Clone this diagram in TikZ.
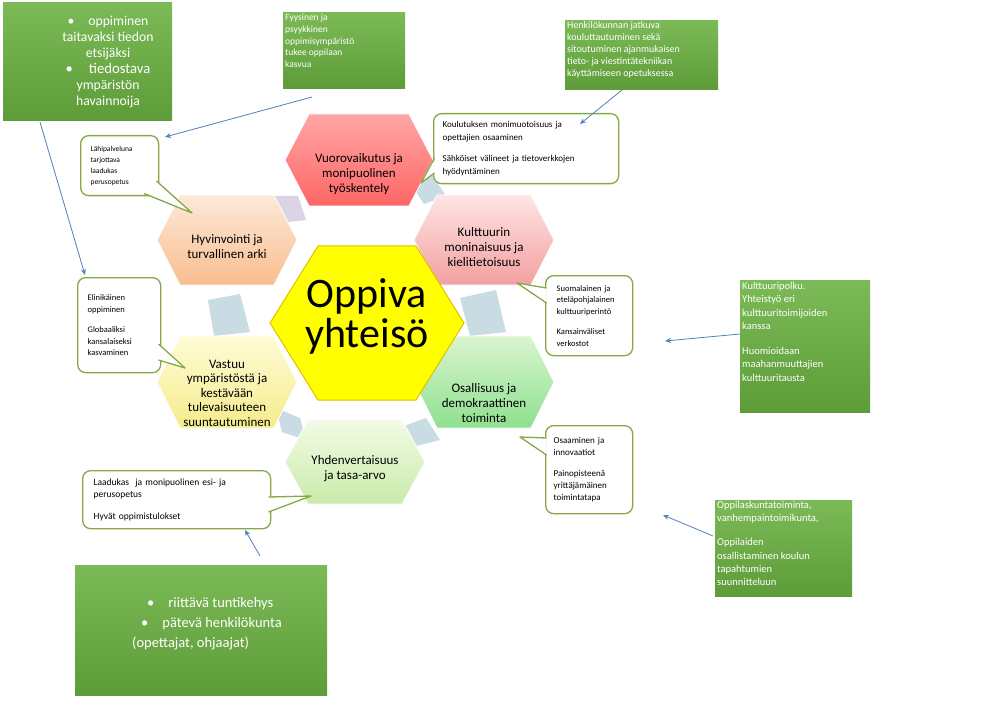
\documentclass[tikz,border=0pt]{standalone}
\usepackage{fontspec}
\setmainfont{Carlito}
\usetikzlibrary{arrows.meta,calc}
\definecolor{gtop}{HTML}{7BBA56}
\definecolor{gbot}{HTML}{5E9C39}
\definecolor{cbord}{HTML}{86A845}
\definecolor{arrblue}{HTML}{4F81BD}
\definecolor{connblue}{HTML}{C9DBE3}
\definecolor{connlav}{HTML}{DAD4E6}
\newcommand{\hexp}[5]{({#1-#3},{#2}) -- ({#1-#3+#5},{#2-#4}) -- ({#1+#3-#5},{#2-#4}) -- ({#1+#3},{#2}) -- ({#1+#3-#5},{#2+#4}) -- ({#1-#3+#5},{#2+#4}) -- cycle}
\tikzset{
  gbox/.style={rectangle, top color=gtop, bottom color=gbot, draw=none, inner sep=0pt, anchor=north west},
  wtxt/.style={text=white, inner sep=0pt, anchor=north west, align=left},
  callbox/.style={rectangle, rounded corners=8pt, draw=cbord, line width=1.3pt, fill=white, anchor=north west, align=left, inner ysep=0pt},
  cline/.style={draw=cbord, line width=1.3pt, line join=round},
  hextxt/.style={align=center, inner sep=0pt, font=\fontsize{13}{15}\selectfont},
  arr/.style={draw=arrblue, line width=0.8pt, -{Stealth[length=6pt,width=5pt]}},
}
\begin{document}
\begin{tikzpicture}[x=1pt,y=-1pt]
\useasboundingbox[fill=white] (0,0) rectangle (1003,703);

% connector shapes between hexagons
\fill[connlav] (262,196) -- (298,196) -- (306,220) -- (272,224) -- cycle;
\fill[connblue] (408,180) -- (430,172) -- (446,196) -- (424,204) -- cycle;
\fill[connblue] (208,300) -- (240,294) -- (250,332) -- (214,336) -- cycle;
\fill[connblue] (460,298) -- (496,290) -- (506,332) -- (470,336) -- cycle;
\fill[connblue] (276,408) -- (300,418) -- (306,440) -- (282,432) -- cycle;
\fill[connblue] (404,426) -- (426,418) -- (440,440) -- (416,446) -- cycle;

% hexagons
\path[top color=red!35!white, bottom color=red!60!white, draw=white, line width=0.8pt] \hexp{359}{160}{74}{46}{24};
\path[top color={rgb,255:red,253;green,233;blue,217}, bottom color={rgb,255:red,249;green,190;blue,143}, draw=white, line width=0.8pt] \hexp{227}{240}{70}{45}{23};
\path[top color={rgb,255:red,255;green,228;blue,228}, bottom color={rgb,255:red,242;green,160;blue,160}, draw=white, line width=0.8pt] \hexp{484}{240}{70}{45}{23};
\path[top color={rgb,255:red,255;green,251;blue,214}, bottom color={rgb,255:red,245;green,236;blue,140}, draw=white, line width=0.8pt] \hexp{227}{382}{70}{46}{23};
\path[top color={rgb,255:red,217;green,245;blue,208}, bottom color={rgb,255:red,142;green,224;blue,142}, draw=white, line width=0.8pt] \hexp{484}{382}{70}{46}{23};
\path[top color={rgb,255:red,242;green,251;blue,230}, bottom color={rgb,255:red,201;green,235;blue,169}, draw=white, line width=0.8pt] \hexp{355}{462}{70}{42}{23};
\path[fill={rgb,255:red,255;green,255;blue,0}, draw={rgb,255:red,224;green,192;blue,0}, line width=1pt] \hexp{367}{323}{97}{77}{48};

% hexagon texts
\node[hextxt] (h1) at (359,174) {Vuorovaikutus ja\\monipuolinen\\työskentely};
\node[hextxt] (h2) at (227,247) {Hyvinvointi ja\\turvallinen arki};
\node[hextxt] (h3) at (484,247) {Kulttuurin\\moninaisuus ja\\kielitietoisuus};
\node[hextxt, font=\fontsize{13}{14.5}\selectfont] (h4) at (227,393) {Vastuu\\ympäristöstä ja\\kestävään\\tulevaisuuteen\\suuntautuminen};
\node[hextxt] (h5) at (484,403) {Osallisuus ja\\demokraattinen\\toiminta};
\node[hextxt] (h6) at (355,469) {Yhdenvertaisuus\\ja tasa-arvo};
\node[hextxt, font=\fontsize{42}{40}\selectfont] (hc) at (367,316) {Oppiva\\yhteisö};

% callouts
\node[callbox, text width=167, inner xsep=9, minimum height=70, font=\fontsize{9}{12.5}\selectfont] (c1) at (433,113) {Koulutuksen monimuotoisuus ja\\opettajien osaaminen\\[9pt]Sähköiset välineet ja tietoverkkojen\\hyödyntäminen};
\fill[white] (436,158) -- (421,183) -- (436,173) -- cycle;
\draw[cline] (434.5,158) -- (421,183) -- (434.5,173);

\node[callbox, text width=58, inner xsep=10, minimum height=60, font=\fontsize{7.5}{11}\selectfont] (c2) at (80,135) {Lähipalveluna\\tarjottava\\laadukas\\perusopetus};
\fill[white] (144,193.5) -- (192,213) -- (156.5,181) -- cycle;
\draw[cline] (144,193.5) -- (192,213) -- (156.5,181);

\node[callbox, text width=63, inner xsep=10, minimum height=95, font=\fontsize{8.5}{11.5}\selectfont] (c3) at (77,277) {Elinikäinen\\oppiminen\\[9pt]Globaaliksi\\kansalaiseksi\\kasvaminen};
\fill[white] (158.5,344) -- (185,368) -- (158.5,360) -- cycle;
\draw[cline] (158.5,344) -- (185,368) -- (158.5,360);

\node[callbox, text width=65, inner xsep=11, minimum height=80, font=\fontsize{8.5}{11.5}\selectfont] (c4) at (545,275) {Suomalainen ja\\eteläpohjalainen\\kulttuuriperintö\\[9pt]Kansainväliset\\verkostot};
\fill[white] (546.5,288) -- (517,283) -- (546.5,303) -- cycle;
\draw[cline] (546.5,288) -- (517,283) -- (546.5,303);

\node[callbox, text width=71, inner xsep=8, minimum height=88, font=\fontsize{9}{12}\selectfont] (c5) at (545,425) {Osaaminen ja\\innovaatiot\\[9pt]Painopisteenä\\yrittäjämäinen\\toimintatapa};
\fill[white] (546.5,438) -- (520,437) -- (546.5,455) -- cycle;
\draw[cline] (546.5,438) -- (520,437) -- (546.5,455);

\node[callbox, text width=166, inner xsep=11, minimum height=58, font=\fontsize{9.5}{12.5}\selectfont] (c6) at (82,470) {Laadukas \ ja monipuolinen esi- ja\\perusopetus\\[9pt]Hyvät oppimistulokset};
\fill[white] (268.5,497) -- (311,496) -- (268.5,512) -- cycle;
\draw[cline] (268.5,497) -- (311,496) -- (268.5,512);

% green boxes
\node[gbox, minimum width=169, minimum height=118] (bA) at (3,2) {};
\node[text=white, inner sep=0pt, align=center, font=\fontsize{13.7}{16}\selectfont] (tA) at (108,62) {•\hspace{14pt}oppiminen\\taitavaksi tiedon\\etsijäksi\\\fontsize{14.7}{18}\selectfont •\hspace{16pt}tiedostava\\ympäristön\\havainnoija};

\node[gbox, minimum width=122, minimum height=76] (bB) at (283,12) {};
\node[wtxt, font=\fontsize{9.5}{11.7}\selectfont] (tB) at (285,14) {Fyysinen ja\\psyykkinen\\oppimisympäristö\\tukee oppilaan\\kasvua};

\node[gbox, minimum width=153, minimum height=69] (bC) at (565,20) {};
\node[wtxt, font=\fontsize{10}{12}\selectfont] (tC) at (567,21) {Henkilökunnan jatkuva\\kouluttautuminen sekä\\sitoutuminen ajanmukaisen\\tieto- ja viestintätekniikan\\käyttämiseen opetuksessa};

\node[gbox, minimum width=130, minimum height=132] (bD) at (740,280) {};
\node[wtxt, font=\fontsize{10.5}{13.5}\selectfont] (tD) at (742,282) {Kulttuuripolku.\\Yhteistyö eri\\kulttuuritoimijoiden\\kanssa\\[11pt]Huomioidaan\\maahanmuuttajien\\kulttuuritausta};

\node[gbox, minimum width=137, minimum height=96] (bE) at (715,500) {};
\node[wtxt, font=\fontsize{10.5}{13.2}\selectfont] (tE) at (717,501) {Oppilaskuntatoiminta,\\vanhempaintoimikunta,\\[11pt]Oppilaiden\\osallistaminen koulun\\tapahtumien\\suunnitteluun};

\node[gbox, minimum width=252, minimum height=130] (bF) at (75,565) {};
\node[wtxt, font=\fontsize{14.5}{20}\selectfont] (tF) at (132,597) {\hspace*{15pt}•\hspace{14pt}riittävä tuntikehys\\\hspace*{9pt}•\hspace{14pt}pätevä henkilökunta\\(opettajat, ohjaajat)};

% arrows
\coordinate (a1s) at (40,122);
\coordinate (a1e) at (85,275);
\coordinate (a2s) at (312,97);
\coordinate (a2e) at (165,137);
\coordinate (a3s) at (622,90);
\coordinate (a3e) at (580,124);
\coordinate (a4s) at (740,334);
\coordinate (a4e) at (665,341);
\coordinate (a5s) at (713,536);
\coordinate (a5e) at (663,515);
\coordinate (a6s) at (260,556);
\coordinate (a6e) at (245,530);
\draw[arr] (a1s) -- (a1e);
\draw[arr] (a2s) -- (a2e);
\draw[arr] (a3s) -- (a3e);
\draw[arr] (a4s) -- (a4e);
\draw[arr] (a5s) -- (a5e);
\draw[arr] (a6s) -- (a6e);
\end{tikzpicture}
\end{document}
